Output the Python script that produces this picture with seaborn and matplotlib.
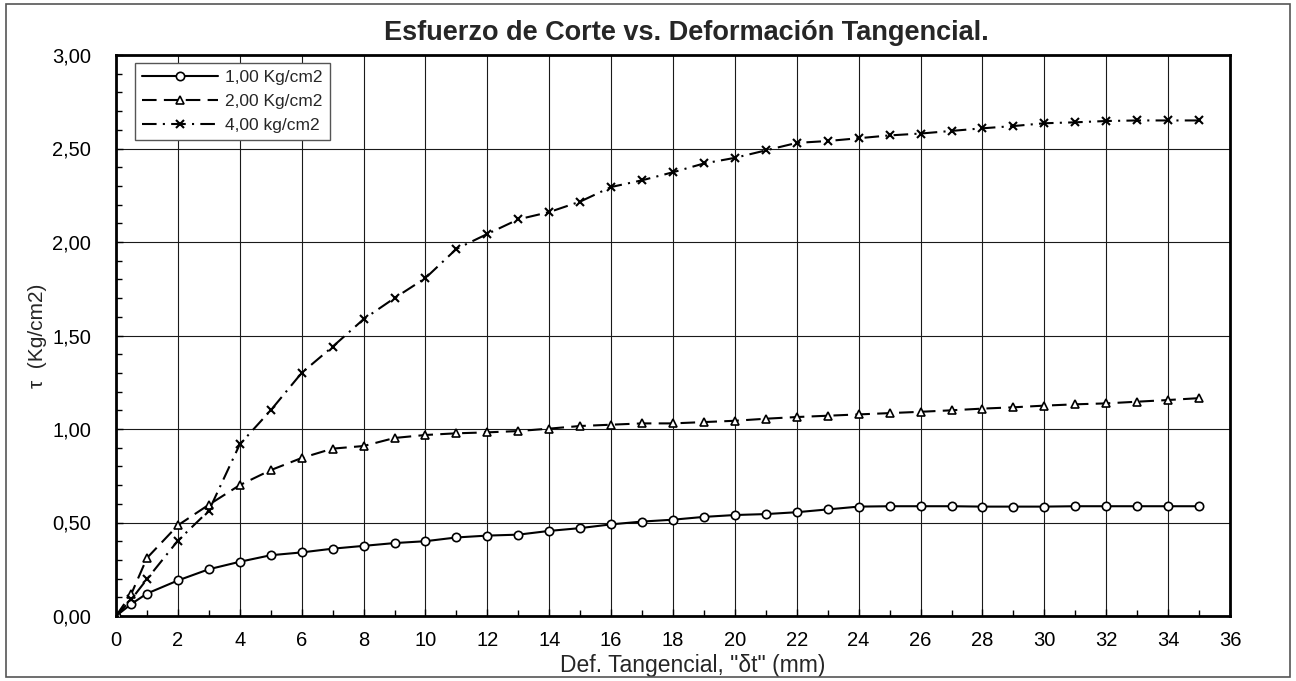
import matplotlib
matplotlib.use("Agg")
import matplotlib.pyplot as plt
from matplotlib.patches import Rectangle
from matplotlib.ticker import MultipleLocator, FuncFormatter
import seaborn as sns

# Deformación tangencial (mm)
deformacion = [0, 0.5, 1, 2, 3, 4, 5, 6, 7, 8, 9, 10, 11, 12, 13, 14, 15, 16, 17,
               18, 19, 20, 21, 22, 23, 24, 25, 26, 27, 28, 29, 30, 31, 32, 33, 34, 35]

# Esfuerzo de corte (Kg/cm2) para cada carga normal
tau_1 = [0, 0.065, 0.12, 0.19, 0.25, 0.29, 0.325, 0.34, 0.36, 0.375, 0.39, 0.40, 0.42,
         0.43, 0.435, 0.455, 0.47, 0.49, 0.505, 0.515, 0.53, 0.54, 0.545, 0.555, 0.57,
         0.585, 0.587, 0.587, 0.587, 0.585, 0.585, 0.585, 0.587, 0.587, 0.587, 0.587, 0.587]
tau_2 = [0, 0.12, 0.31, 0.485, 0.595, 0.70, 0.78, 0.845, 0.895, 0.909, 0.952, 0.968,
         0.977, 0.982, 0.989, 1.002, 1.016, 1.023, 1.03, 1.03, 1.037, 1.044, 1.055, 1.064,
         1.071, 1.078, 1.085, 1.092, 1.10, 1.109, 1.116, 1.125, 1.132, 1.137, 1.146, 1.155, 1.165]
tau_4 = [0, 0.09, 0.197, 0.403, 0.563, 0.918, 1.10, 1.30, 1.44, 1.587, 1.70, 1.807,
         1.963, 2.043, 2.121, 2.16, 2.216, 2.294, 2.33, 2.373, 2.42, 2.45, 2.49, 2.53,
         2.54, 2.555, 2.57, 2.58, 2.594, 2.608, 2.62, 2.635, 2.64, 2.647, 2.65, 2.65, 2.65]

series_labels = ["1,00 Kg/cm2", "2,00 Kg/cm2", "4,00 kg/cm2"]

titulo = "Esfuerzo de Corte vs. Deformación Tangencial."
etiqueta_x = 'Def. Tangencial, "δt" (mm)'
etiqueta_y = "τ  (Kg/cm2)"

sns.set_style("ticks")
plt.rcParams["font.family"] = ["Liberation Sans", "DejaVu Sans"]

W, H = 1296, 681
fig = plt.figure(figsize=(W / 100, H / 100), dpi=100)
left, right, top, bottom = 116, 1230, 55, 616
ax = fig.add_axes([left / W, 1 - bottom / H, (right - left) / W, (bottom - top) / H])

estilos = [
    ("o", "-", 1.2),
    ("^", (0, (7, 3.5)), 1.2),
    ("x", (0, (7, 3, 1, 3)), 1.5),
]

for vals, lab, (mk, ls, mew) in zip([tau_1, tau_2, tau_4], series_labels, estilos):
    sns.lineplot(x=deformacion, y=vals, ax=ax, color="black", label=lab,
                 marker=mk, linestyle=ls, linewidth=1.5, markersize=6,
                 markerfacecolor="white", markeredgecolor="black",
                 markeredgewidth=mew, errorbar=None, zorder=3, legend=False)

ax.set_xlim(0, 36)
ax.set_ylim(0, 3.0)
ax.xaxis.set_major_locator(MultipleLocator(2))
ax.xaxis.set_minor_locator(MultipleLocator(1))
ax.yaxis.set_major_locator(MultipleLocator(0.5))
ax.yaxis.set_minor_locator(MultipleLocator(0.1))
ax.yaxis.set_major_formatter(FuncFormatter(lambda v, p: f"{v:.2f}".replace(".", ",")))

ax.grid(which="major", color="#1a1a1a", linewidth=0.8)
ax.tick_params(which="both", direction="in", colors="black")
ax.tick_params(which="major", length=5, width=1)
ax.tick_params(which="minor", length=4, width=1)
ax.tick_params(axis="y", which="major", pad=18, labelsize=14.5)
ax.tick_params(axis="x", which="major", pad=11, labelsize=14.5)

for sp in ax.spines.values():
    sp.set_visible(True)
    sp.set_linewidth(2)
    sp.set_color("black")

ax.set_xlabel(etiqueta_x, fontsize=16.5)
ax.set_ylabel(etiqueta_y, fontsize=15)
ax.xaxis.set_label_coords(0.518, -0.067)
ax.yaxis.set_label_coords(-0.062, 0.5)

fig.text(686 / W, 1 - 40 / H, titulo, ha="center", va="baseline",
         fontsize=19.5, fontweight="bold")

leg = ax.legend(handles=ax.get_lines()[:3], labels=series_labels,
                loc="upper left", bbox_to_anchor=(0.017, 0.986), borderaxespad=0,
                fontsize=12.5, frameon=True, fancybox=False, framealpha=1,
                edgecolor="#555555", handlelength=4.4, handletextpad=0.4,
                labelspacing=0.5, borderpad=0.4)
leg.get_frame().set_linewidth(1)

fig.patches.append(Rectangle((6 / W, 4 / H), (1290 - 6) / W, (677 - 4) / H,
                             transform=fig.transFigure, fill=False,
                             edgecolor="#555555", linewidth=1.2))

fig.savefig("out.png", dpi=100, facecolor="white")
